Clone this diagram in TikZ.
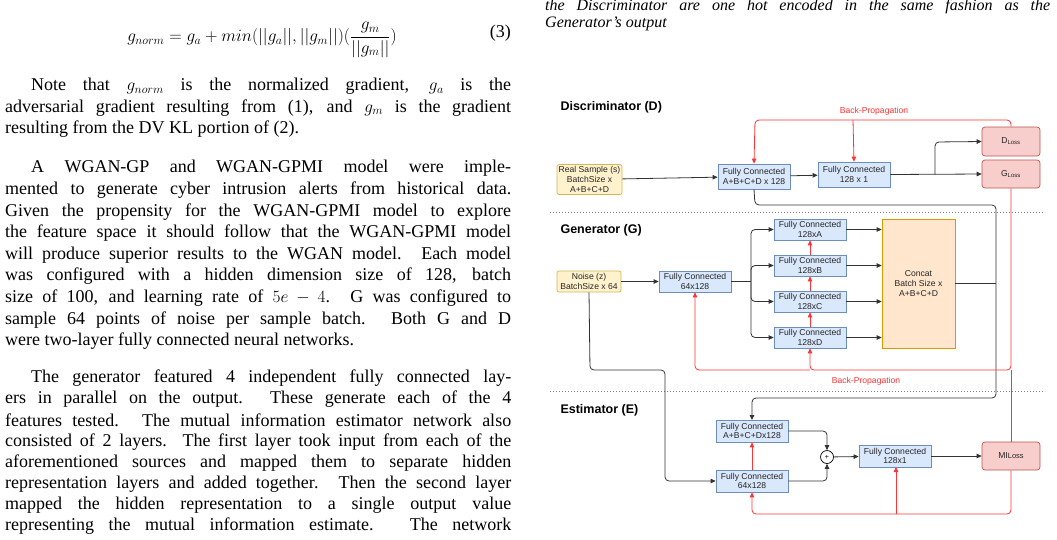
\documentclass[tikz,border=0pt]{standalone}
\usepackage{fontspec}
\setmainfont{Liberation Serif}
\newfontfamily\sansf{Liberation Sans}
\usetikzlibrary{arrows.meta}
\definecolor{fcf}{HTML}{DAE8FC}\definecolor{fcd}{HTML}{6C8EBF}
\definecolor{yf}{HTML}{FFF2CC}\definecolor{yd}{HTML}{D6B656}
\definecolor{rf}{HTML}{F8CECC}\definecolor{rd}{HTML}{B85450}
\definecolor{of}{HTML}{FFE6CC}\definecolor{od}{HTML}{D79B00}
\definecolor{bp}{HTML}{FF3333}
\newcommand{\jl}[3]{\node[body] (#1) at (#2) {\makebox[506pt][s]{#3}};}
\newcommand{\il}[3]{\node[body] (#1) at (#2) {\makebox[480pt][s]{#3}};}
\newcommand{\pl}[3]{\node[body] (#1) at (#2) {#3};}
\begin{document}
\begin{tikzpicture}[x=1pt,y=-1pt,
  body/.style={anchor=west,inner sep=0pt,font=\fontsize{18}{20}\selectfont},
  box/.style={draw,line width=0.7pt,font=\sansf\fontsize{8.6}{9.8}\selectfont,align=center,inner sep=1pt,text=black!85},
  fc/.style={box,fill=fcf,draw=fcd},
  yb/.style={box,fill=yf,draw=yd,rounded corners=2pt},
  rb/.style={box,fill=rf,draw=rd,rounded corners=3pt},
  ttl/.style={anchor=west,font=\sansf\bfseries\fontsize{12.5}{14}\selectfont},
  con/.style={draw=black!80,line width=0.8pt,rounded corners=4pt,-{Triangle[length=5pt,width=4.5pt]}},
  ln/.style={draw=black!80,line width=0.8pt,rounded corners=4pt},
  red/.style={draw=bp,line width=0.8pt,rounded corners=4pt},
  rcon/.style={red,-{Triangle[length=5pt,width=4.5pt]}},
  bpl/.style={text=bp,font=\sansf\fontsize{8.6}{9.8}\selectfont,inner sep=0pt},
  sepline/.style={draw=black!50,dotted,line width=1pt}]
\useasboundingbox (0,0) rectangle (1057,539);
% ---------- left text ----------
\node[inner sep=0pt,font=\fontsize{18.5}{20}\selectfont] (eq) at (262,40)
  {$g_{norm} = g_a + min(||g_a||,||g_m||)(\displaystyle\frac{g_m}{||g_m||})$};
\node[anchor=east,inner sep=0pt,font=\fontsize{18}{20}\selectfont] (eqn) at (511,33) {(3)};
\il{a1}{31,86.5}{Note that $g_{norm}$ is the normalized gradient, $g_a$ is the}
\jl{a2}{5,108}{adversarial gradient resulting from (1), and $g_m$ is the gradient}
\pl{a3}{5,129.5}{resulting from the DV KL portion of (2).}
\il{b1}{31,168.5}{A WGAN-GP and WGAN-GPMI model were imple-}
\jl{b2}{5,190.1}{mented to generate cyber intrusion alerts from historical data.}
\jl{b3}{5,211.7}{Given the propensity for the WGAN-GPMI model to explore}
\jl{b4}{5,233.3}{the feature space it should follow that the WGAN-GPMI model}
\jl{b5}{5,254.9}{will produce superior results to the WGAN model. Each model}
\jl{b6}{5,276.5}{was configured with a hidden dimension size of 128, batch}
\jl{b7}{5,298.1}{size of 100, and learning rate of $5e-4$. G was configured to}
\jl{b8}{5,319.7}{sample 64 points of noise per sample batch. Both G and D}
\pl{b9}{5,341.3}{were two-layer fully connected neural networks.}
\il{c1}{31,378}{The generator featured 4 independent fully connected lay-}
\jl{c2}{5,399.2}{ers in parallel on the output. These generate each of the 4}
\jl{c3}{5,420.4}{features tested. The mutual information estimator network also}
\jl{c4}{5,441.6}{consisted of 2 layers. The first layer took input from each of the}
\jl{c5}{5,462.8}{aforementioned sources and mapped them to separate hidden}
\jl{c6}{5,484}{representation layers and added together. Then the second layer}
\jl{c7}{5,505.2}{mapped the hidden representation to a single output value}
\jl{c8}{5,526.4}{representing the mutual information estimate. The network}
% ---------- right caption ----------
\node[anchor=west,inner sep=0pt,font=\itshape\fontsize{16}{20}\selectfont] (cap1) at (545,7)
  {\makebox[505pt][s]{the Discriminator are one hot encoded in the same fashion as the}};
\node[anchor=west,inner sep=0pt,font=\itshape\fontsize{16}{20}\selectfont] (cap2) at (545,24) {Generator’s output};
% ---------- diagram ----------
\draw[sepline] (550,212) -- (1045,212);
\draw[sepline] (550,391) -- (1045,391);
\node[ttl] (tD) at (557,107) {Discriminator (D)};
\node[ttl] (tG) at (557,230) {Generator (G)};
\node[ttl] (tE) at (557,410) {Estimator (E)};
% D
\node[yb,minimum width=65pt,minimum height=30pt] (rs) at (589.5,179.5) {Real Sample (s)\\BatchSize x\\A+B+C+D};
\node[fc,minimum width=72pt,minimum height=25pt] (d1) at (754,176.5) {Fully Connected\\A+B+C+D x 128};
\node[fc,minimum width=72pt,minimum height=25pt] (d2) at (854,174.5) {Fully Connected\\128 x 1};
\node[rb,minimum width=58pt,minimum height=29pt] (dl) at (1011,141.5) {D\textsubscript{Loss}};
\node[rb,minimum width=58pt,minimum height=28pt] (gl) at (1011,174) {G\textsubscript{Loss}};
\path[con] (rs) -- (d1);
\path[con] (d1) -- (d2);
\path[con] (d2.east) -- (gl.west);
\path[con] (935,174.5) -- (935,142) -- (dl.west);
\path[rcon] (dl.north) -- (1011,120) -- (755,120) -- (d1.north);
\path[rcon] (853,120) -- (d2.north);
\node[bpl] (bp1) at (874,111) {Back-Propagation};
% G
\node[yb,minimum width=64pt,minimum height=21pt] (nz) at (589,281.5) {Noise (z)\\BatchSize x 64};
\node[fc,minimum width=72pt,minimum height=21pt] (g0) at (695,281.5) {Fully Connected\\64x128};
\node[fc,minimum width=72pt,minimum height=21pt] (ga) at (810,229.5) {Fully Connected\\128xA};
\node[fc,minimum width=72pt,minimum height=21pt] (gb) at (810,265.5) {Fully Connected\\128xB};
\node[fc,minimum width=72pt,minimum height=21pt] (gc) at (810,301.5) {Fully Connected\\128xC};
\node[fc,minimum width=72pt,minimum height=21pt] (gd) at (810,337.5) {Fully Connected\\128xD};
\node[box,fill=of,draw=od,minimum width=73pt,minimum height=129pt] (cc) at (918.5,283.5) {Concat\\Batch Size x\\A+B+C+D};
\path[con] (nz) -- (g0);
\coordinate (br) at (751,281.5);
\path[ln] (g0.east) -- (br);
\foreach \n in {ga,gb,gc,gd}{
  \path[con] (br) -- (br |- \n.west) -- (\n.west);
  \path[con] (\n.east) -- (cc.west |- \n.east);}
\path[rcon] (gd) -- (gc); \path[rcon] (gc) -- (gb); \path[rcon] (gb) -- (ga);
% feed to estimator
\path[ln] (cc.east) -- (996,283.5);
\path[con] (d1.south) -- (755,205) -- (996,205) -- (996,398) -- (752,398) -- (752,420);
% G back-prop
\path[rcon] (gl.south) -- (1011,370) -- (810,370) -- (gd.south);
\path[rcon] (810,370) -- (695,370) -- (g0.south);
\node[bpl] (bp2) at (866,381) {Back-Propagation};
% E
\node[fc,minimum width=72pt,minimum height=22pt] (e1) at (752,431) {Fully Connected\\A+B+C+Dx128};
\node[fc,minimum width=72pt,minimum height=22pt] (e2) at (752,481) {Fully Connected\\64x128};
\node[draw,circle,minimum size=13pt,inner sep=0pt,font=\sansf\fontsize{7}{8}\selectfont,line width=0.7pt] (pl) at (827,457) {+};
\node[fc,minimum width=72pt,minimum height=22pt] (e3) at (895,456) {Fully Connected\\128x1};
\node[rb,minimum width=58pt,minimum height=28pt] (ml) at (1011,456) {MI\fontsize{7.5}{8}\selectfont Loss};
\path[con] (nz.south) -- (590,370) -- (665,370) -- (665,481) -- (e2.west);
\path[con] (e1.east) -- (827,431) -- (pl.north);
\path[con] (e2.east) -- (827,481) -- (pl.south);
\path[con] (pl) -- (e3);
\path[con] (e3) -- (ml);
\path[rcon] (e2) -- (e1);
\path[red] (ml.north) -- (1011,370);
\path[rcon] (ml.south) -- (1011,514) -- (752,514) -- (e2.south);
\path[rcon] (896,514) -- (896,467);
\end{tikzpicture}
\end{document}
